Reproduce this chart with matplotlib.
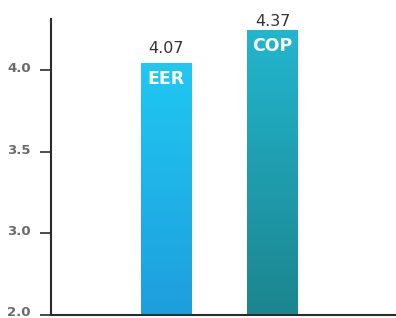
import numpy as np
import matplotlib
matplotlib.use("Agg")
import matplotlib.pyplot as plt
import matplotlib.transforms as mtransforms
from matplotlib.colors import LinearSegmentedColormap

# ---- data ----
categories = ["EER", "COP"]
values = [4.07, 4.37]
value_labels = ["4.07", "4.37"]
yticks = [2.0, 3.0, 3.5, 4.0]
ytick_labels = ["2.0", "3.0", "3.5", "4.0"]

# colours (top, bottom) of each bar's gradient
grad_colors = [("#20c8f2", "#1e9edd"), ("#22b6cf", "#1c858e")]

# broken (piecewise) value axis as in the reference
brk_vals = np.array([2.0, 3.0, 3.5, 4.0, 4.5])
brk_pos = np.array([0.0, 1.0, 2.0, 3.0, 3.675])

def fwd(v):
    return np.interp(v, brk_vals, brk_pos)

def inv(p):
    return np.interp(p, brk_pos, brk_vals)

fig = plt.figure(figsize=(3.96, 3.18), dpi=100)
ax = fig.add_axes([51/396, 3.5/318, 1 - 51/396, 295.5/318])
ax.set_yscale("function", functions=(fwd, inv))

x = np.arange(len(categories))
width = 0.47
bars = ax.bar(x, [v - 2.0 for v in values], bottom=2.0, width=width,
              color="none", edgecolor="none", zorder=2)

ax.set_xlim(-1.08, 2.16)
ax.set_ylim(2.0, 4.468)

ax.set_yticks(yticks)
ax.set_yticklabels(ytick_labels)
ax.set_xticks([])

for s in ["top", "right"]:
    ax.spines[s].set_visible(False)
for s in ["left", "bottom"]:
    ax.spines[s].set_color("#2b2b2b")
    ax.spines[s].set_linewidth(1.5)

ax.tick_params(axis="y", length=8, width=1.2, color="#2b2b2b", pad=6.5,
               labelsize=9.5, labelcolor="#6a6a6a")
shift = mtransforms.ScaledTranslation(0, 3/100, fig.dpi_scale_trans)
for lab in ax.get_yticklabels():
    lab.set_fontweight("bold")
    lab.set_family("DejaVu Sans")
    lab.set_transform(lab.get_transform() + shift)

# gradient fill of bars
to_axes = ax.transData + ax.transAxes.inverted()
grad = np.linspace(0, 1, 256).reshape(-1, 1)
for b, (ctop, cbot) in zip(bars.patches, grad_colors):
    x0, y0 = b.get_x(), b.get_y()
    x1, y1 = x0 + b.get_width(), y0 + b.get_height()
    (ax0, ay0), (ax1, ay1) = to_axes.transform([(x0, y0), (x1, y1)])
    cmap = LinearSegmentedColormap.from_list("g", [cbot, ctop])
    im = ax.imshow(grad, cmap=cmap, aspect="auto", origin="lower",
                   extent=[ax0, ax1, ay0, ay1], transform=ax.transAxes,
                   zorder=1, interpolation="bilinear")
    im.set_clip_path(b)

# labels
label_offsets = [7.2, 2.4]
for xi, v, vl, cat, off in zip(x, values, value_labels, categories, label_offsets):
    ax.annotate(vl, (xi, v), xytext=(0, off), textcoords="offset points",
                ha="center", va="baseline", fontsize=11.5, color="#333333",
                family="DejaVu Sans")
    ax.annotate(cat, (xi, v), xytext=(0, -11.5), textcoords="offset points",
                ha="center", va="center", fontsize=12.5, color="white",
                fontweight="bold", family="DejaVu Sans", zorder=5)

fig.savefig("out.png", dpi=100)
